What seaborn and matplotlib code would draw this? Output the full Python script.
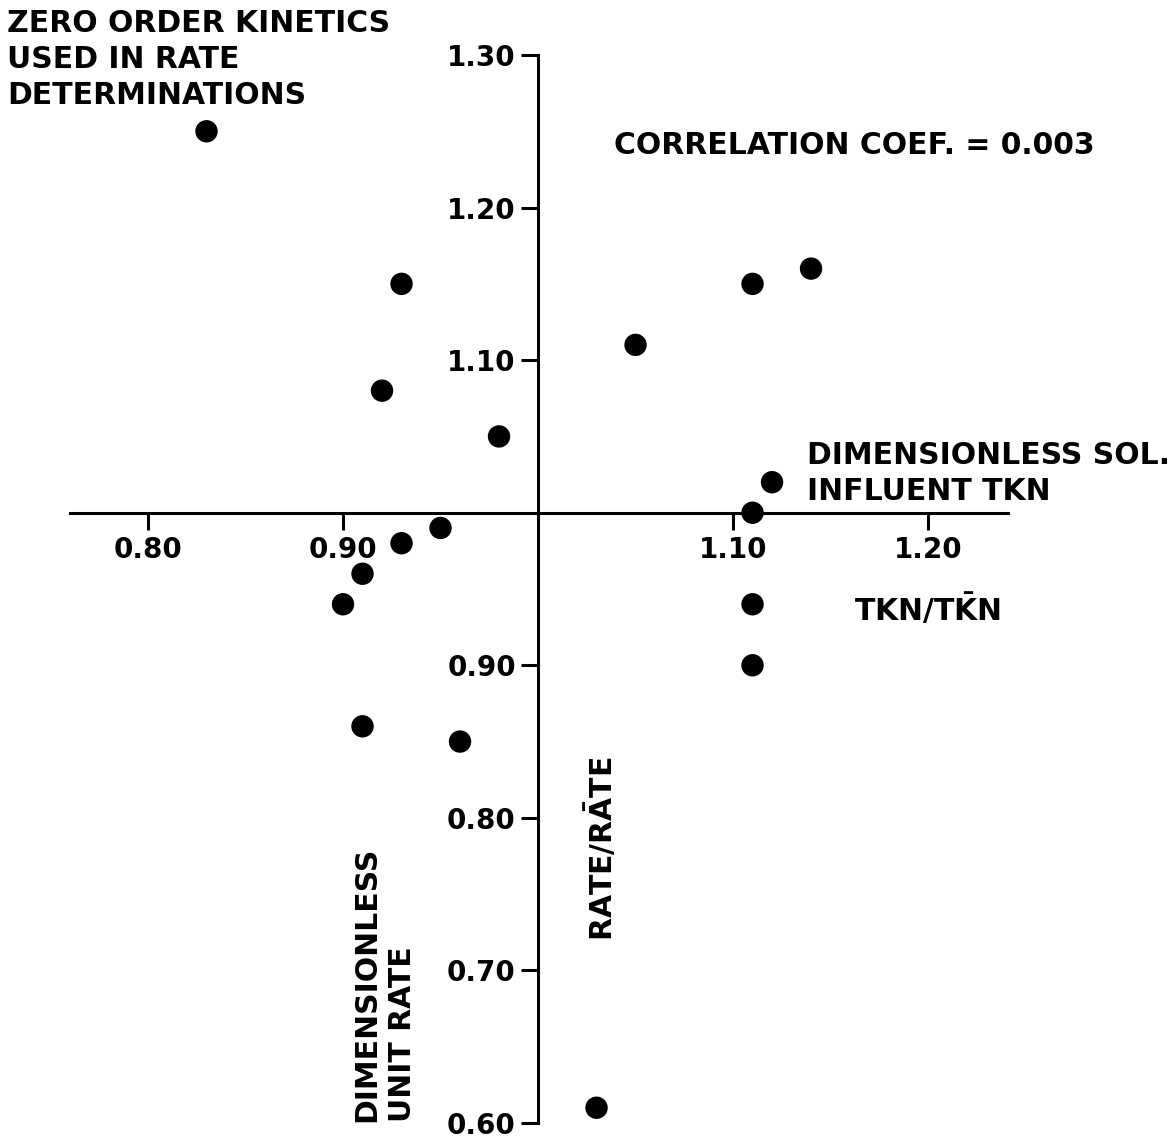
import matplotlib
matplotlib.use("Agg")
import matplotlib.pyplot as plt
import seaborn as sns
import pandas as pd

# --- data ---
tkn_ratio = [0.83, 0.93, 0.92, 0.98, 1.05, 1.11, 1.14, 1.12, 1.11,
             0.95, 0.93, 0.91, 0.90, 1.11, 1.11, 0.91, 0.96, 1.03]
rate_ratio = [1.25, 1.15, 1.08, 1.05, 1.11, 1.15, 1.16, 1.02, 1.00,
              0.99, 0.98, 0.96, 0.94, 0.94, 0.90, 0.86, 0.85, 0.61]
x_ticks = [0.80, 0.90, 1.10, 1.20]
x_tick_labels = ["0.80", "0.90", "1.10", "1.20"]
y_ticks = [0.60, 0.70, 0.80, 0.90, 1.10, 1.20, 1.30]
y_tick_labels = ["0.60", "0.70", "0.80", "0.90", "1.10", "1.20", "1.30"]

sns.set_theme(style="white")
plt.rcParams['font.family'] = ['DejaVu Sans']
plt.rcParams['font.weight'] = 'bold'
plt.rcParams['text.color'] = 'black'
plt.rcParams['mathtext.fontset'] = 'custom'
plt.rcParams['mathtext.rm'] = 'DejaVu Sans:bold'
plt.rcParams['mathtext.bf'] = 'DejaVu Sans:bold'

df = pd.DataFrame({"x": tkn_ratio, "y": rate_ratio})

W, H = 1175, 1140
fig = plt.figure(figsize=(W / 100, H / 100), dpi=100)
# axes placement: x 0.76..1.241 spans px 70..1008; y 0.60..1.30 spans px 1123..55
L, R, T, B = 70, 1008, 55, 1123
ax = fig.add_axes([L / W, 1 - B / H, (R - L) / W, (B - T) / H])

sns.scatterplot(data=df, x="x", y="y", ax=ax, color="black", s=260,
                edgecolor="none", legend=False, zorder=3)

ax.set_xlim(0.76, 1.241)
ax.set_ylim(0.60, 1.30)

for s in ("top", "right"):
    ax.spines[s].set_visible(False)
ax.spines["left"].set_position(("data", 1.0))
ax.spines["bottom"].set_position(("data", 1.0))
for s in ("left", "bottom"):
    ax.spines[s].set_linewidth(2.2)
    ax.spines[s].set_color("black")

ax.set_xticks(x_ticks)
ax.set_xticklabels(x_tick_labels)
ax.set_yticks(y_ticks)
ax.set_yticklabels(y_tick_labels)
ax.tick_params(axis="x", direction="out", length=12, width=2.2, pad=5,
               labelsize=20, colors="black", bottom=True)
ax.tick_params(axis="y", direction="out", length=12, width=2.2, pad=4,
               labelsize=20, colors="black", left=True)
ax.set_xlabel("")
ax.set_ylabel("")
ax.grid(False)

fs = 21.5
tc = "black"
fig.text(7 / W, 1 - 9 / H, "ZERO ORDER KINETICS\nUSED IN RATE\nDETERMINATIONS",
         ha="left", va="top", fontsize=fs, fontweight="bold", linespacing=1.3, color=tc)
fig.text(614 / W, 1 - 146 / H, "CORRELATION COEF. = 0.003",
         ha="left", va="center", fontsize=fs, fontweight="bold", color=tc)
fig.text(807 / W, 1 - 441 / H, "DIMENSIONLESS SOL.\nINFLUENT TKN",
         ha="left", va="top", fontsize=fs, fontweight="bold", linespacing=1.3, color=tc)
fig.text(854 / W, 1 - 609 / H, r"TKN/T$\bar{\mathrm{K}}$N",
         ha="left", va="center", fontsize=fs, fontweight="bold", color=tc)
fig.text(601 / W, 1 - 849 / H, r"RATE/R$\bar{\mathrm{A}}$TE",
         ha="center", va="center", rotation=90, fontsize=fs, fontweight="bold", color=tc)
fig.text(385 / W, 1 - 1122 / H, "DIMENSIONLESS\nUNIT RATE",
         ha="center", va="bottom", rotation=90, multialignment="left",
         fontsize=fs, fontweight="bold", linespacing=1.3, color=tc)

fig.savefig("out.png", dpi=100, facecolor="white")
